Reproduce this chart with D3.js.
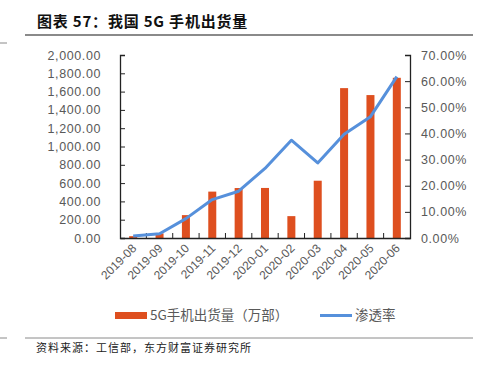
<!DOCTYPE html>
<html><head><meta charset="utf-8">
<script src="https://cdn.jsdelivr.net/npm/d3@7"></script>
<style>body{margin:0;background:#fff}svg{display:block}</style>
</head><body>
<script>
const categories = ["2019-08","2019-09","2019-10","2019-11","2019-12","2020-01","2020-02","2020-03","2020-04","2020-05","2020-06"];
const shipments = [20, 50, 250, 507, 546, 547, 239, 626, 1638, 1562, 1751];
const penetration = [0.8, 1.6, 7.4, 14.7, 17.9, 26.6, 37.4, 28.7, 39.7, 46.4, 61.7];
const leftTicks = [0,200,400,600,800,1000,1200,1400,1600,1800,2000];
const rightTicks = [0,10,20,30,40,50,60,70];

const W = 480, H = 373;
const svg = d3.select("body").append("svg").attr("width", W).attr("height", H);
const font = "'Liberation Sans', Arial, sans-serif";
const cjk = "'Noto Sans CJK SC', sans-serif";

// title
svg.append("text").attr("x", 37).attr("y", 27).attr("font-family", cjk).attr("font-weight", "bold")
  .attr("font-size", 15).attr("letter-spacing", 0.8).attr("fill", "#111").text("图表 57：我国 5G 手机出货量");
svg.append("line").attr("x1", 25).attr("x2", 473).attr("y1", 35).attr("y2", 35).attr("stroke", "#8a8a8a").attr("stroke-width", 2);
svg.append("line").attr("x1", 0).attr("x2", 7).attr("y1", 43).attr("y2", 43).attr("stroke", "#8a8a8a").attr("stroke-width", 1);

const x = d3.scaleBand().domain(categories).range([120, 410]);
const yL = d3.scaleLinear().domain([0, 2000]).range([238, 55]);
const yR = d3.scaleLinear().domain([0, 70]).range([238, 55]);

// bars
const bw = 8;
svg.append("g").selectAll("rect").data(categories).join("rect")
  .attr("x", (d) => x(d) + x.bandwidth()/2 - bw/2)
  .attr("y", (d,i) => yL(shipments[i]))
  .attr("width", bw)
  .attr("height", (d,i) => yL(0) - yL(shipments[i]))
  .attr("fill", "#DE4F1F");

// axes
const labelColor = "#595959";
const gL = svg.append("g").attr("transform", "translate(120,0)")
  .call(d3.axisRight(yL).tickValues(leftTicks).tickSize(5).tickFormat(() => ""));
svg.append("g").selectAll("text").data(leftTicks).join("text")
  .attr("x", 101).attr("y", d => yL(d) + 4.5).attr("text-anchor", "end")
  .attr("font-family", font).attr("font-size", 12.5).attr("letter-spacing", 0.6).attr("fill", labelColor)
  .text(d => d3.format(",.2f")(d));

const gR = svg.append("g").attr("transform", "translate(410,0)")
  .call(d3.axisLeft(yR).tickValues(rightTicks).tickSize(5).tickFormat(() => ""));
svg.append("g").selectAll("text").data(rightTicks).join("text")
  .attr("x", 421).attr("y", d => yR(d) + 4.5).attr("text-anchor", "start")
  .attr("font-family", font).attr("font-size", 12.5).attr("letter-spacing", 0.6).attr("fill", labelColor)
  .text(d => d3.format(".2f")(d) + "%");

const gX = svg.append("g").attr("transform", "translate(0,238)")
  .call(d3.axisBottom(x).tickSize(0).tickFormat(() => ""));
svg.append("g").selectAll("line").data(categories.slice(1)).join("line")
  .attr("x1", d => x(d)).attr("x2", d => x(d)).attr("y1", 238).attr("y2", 233)
  .attr("stroke", "#222");

[gL, gR, gX].forEach(g => {
  g.selectAll("path").attr("stroke", "#222").attr("stroke-width", 1.3);
  g.selectAll("line").attr("stroke", "#222");
});

svg.append("g").selectAll("text").data(categories).join("text")
  .attr("transform", d => `translate(${x(d) + x.bandwidth()/2 + 4},${249}) rotate(-45)`)
  .attr("text-anchor", "end").attr("font-family", font).attr("font-size", 12).attr("fill", labelColor)
  .text(d => d);

// line
const line = d3.line().x((d,i) => x(categories[i]) + x.bandwidth()/2).y(d => yR(d));
svg.append("path").datum(penetration).attr("d", line).attr("fill", "none")
  .attr("stroke", "#5690DB").attr("stroke-width", 3).attr("stroke-linejoin", "round");

// legend
svg.append("rect").attr("x", 115).attr("y", 312).attr("width", 32).attr("height", 7).attr("fill", "#DE4F1F");
svg.append("text").attr("x", 150).attr("y", 320).attr("font-family", cjk).attr("font-size", 13.5).attr("fill", labelColor)
  .text("5G手机出货量（万部）");
svg.append("line").attr("x1", 320).attr("x2", 352).attr("y1", 315.5).attr("y2", 315.5).attr("stroke", "#5690DB").attr("stroke-width", 3);
svg.append("text").attr("x", 355).attr("y", 320).attr("font-family", cjk).attr("font-size", 13.5).attr("fill", labelColor)
  .text("渗透率");

// footer
svg.append("line").attr("x1", 25).attr("x2", 473).attr("y1", 338).attr("y2", 338).attr("stroke", "#8a8a8a").attr("stroke-width", 1);
svg.append("line").attr("x1", 0).attr("x2", 7).attr("y1", 338).attr("y2", 338).attr("stroke", "#8a8a8a").attr("stroke-width", 1);
svg.append("text").attr("x", 36).attr("y", 352).attr("font-family", cjk).attr("font-size", 11).attr("letter-spacing", 1)
  .attr("fill", "#222").text("资料来源：工信部，东方财富证券研究所");
</script>
</body></html>
